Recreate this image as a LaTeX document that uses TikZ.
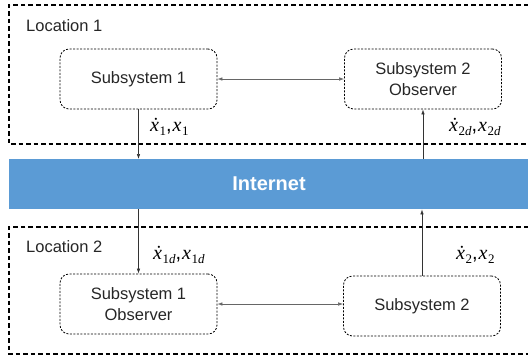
\documentclass[tikz,border=0pt]{standalone}
\usepackage{fontspec}
\setmainfont{Liberation Sans}
\newfontfamily\mathlike{Liberation Serif}
\usetikzlibrary{arrows.meta}
\newcommand{\vx}[1]{{\mathlike\itshape x}\kern0.5pt\raisebox{-3.5pt}{\fontsize{13}{13}\selectfont\mathlike #1}}
\newcommand{\vxd}[1]{{\mathlike\itshape ẋ}\kern0.5pt\raisebox{-3.5pt}{\fontsize{13}{13}\selectfont\mathlike #1}}
\begin{document}
\begin{tikzpicture}[x=1pt,y=-1pt,
  outer/.style={draw=black, line width=1.1pt, dash pattern=on 4.5pt off 3pt},
  sub/.style={draw=black, line width=0.8pt, dash pattern=on 2pt off 1.5pt, rounded corners=9pt, minimum width=157pt, minimum height=60pt, align=center, font=\fontsize{16.5}{21}\selectfont, text=black!85, inner sep=0pt},
  link/.style={draw=black!60, line width=0.6pt, {Latex[length=5pt,width=3.5pt]}-{Latex[length=5pt,width=3.5pt]}},
  flow/.style={draw=black!80, line width=0.6pt, -{Latex[length=5pt,width=3.5pt]}},
  lab/.style={font=\fontsize{20}{20}\selectfont, inner sep=0pt, anchor=west},
  loc/.style={font=\fontsize{16.5}{20}\selectfont, text=black!85, anchor=west, inner sep=0pt}
]
\useasboundingbox (0,0) rectangle (528,357);
% outer location frames (open on the right)
\draw[outer] (528,5) -- (9,5) -- (9,144) -- (528,144);
\draw[outer] (528,227) -- (9,227) -- (9,354) -- (528,354);
\node[loc] (loc1) at (26,26) {Location 1};
\node[loc] (loc2) at (26,247) {Location 2};
% internet
\node[fill={rgb,255:red,91;green,155;blue,213}, minimum width=519pt, minimum height=50pt, inner sep=0pt, anchor=north west] (net) at (9,159) {};
\node[text=white, font=\fontsize{20}{22}\selectfont\bfseries] (nettext) at (269,184) {Internet};
% subsystems
\node[sub] (s1) at (138.5,79) {Subsystem 1};
\node[sub] (s2o) at (423,79) {Subsystem 2\\Observer};
\node[sub] (s1o) at (138.5,304) {Subsystem 1\\Observer};
\node[sub] (s2) at (422,306) {Subsystem 2};
% horizontal links
\draw[link] (s1.east) -- (s2o.west);
\draw[link] (s1o.east) -- (s2.west |- s1o.east);
% vertical flows
\coordinate (n1) at (net.north -| s1.south);
\coordinate (n2) at (net.south -| s1o.north);
\coordinate (n3) at (net.south -| s2.north);
\coordinate (n4) at (net.north -| s2o.south);
\draw[flow] (s1.south) -- (n1);
\draw[flow] (n2) -- (s1o.north);
\draw[flow] (s2.north) -- (n3);
\draw[flow] (n4) -- (s2o.south);
% labels
\node[lab] (l1) at (150,127) {\vxd{1},\kern1pt\vx{1}};
\node[lab] (l2) at (449,127) {\vxd{2\itshape d},\kern1pt\vx{2\itshape d}};
\node[lab] (l3) at (153,255) {\vxd{1\itshape d},\kern1pt\vx{1\itshape d}};
\node[lab] (l4) at (456,255) {\vxd{2},\kern1pt\vx{2}};
\end{tikzpicture}
\end{document}
